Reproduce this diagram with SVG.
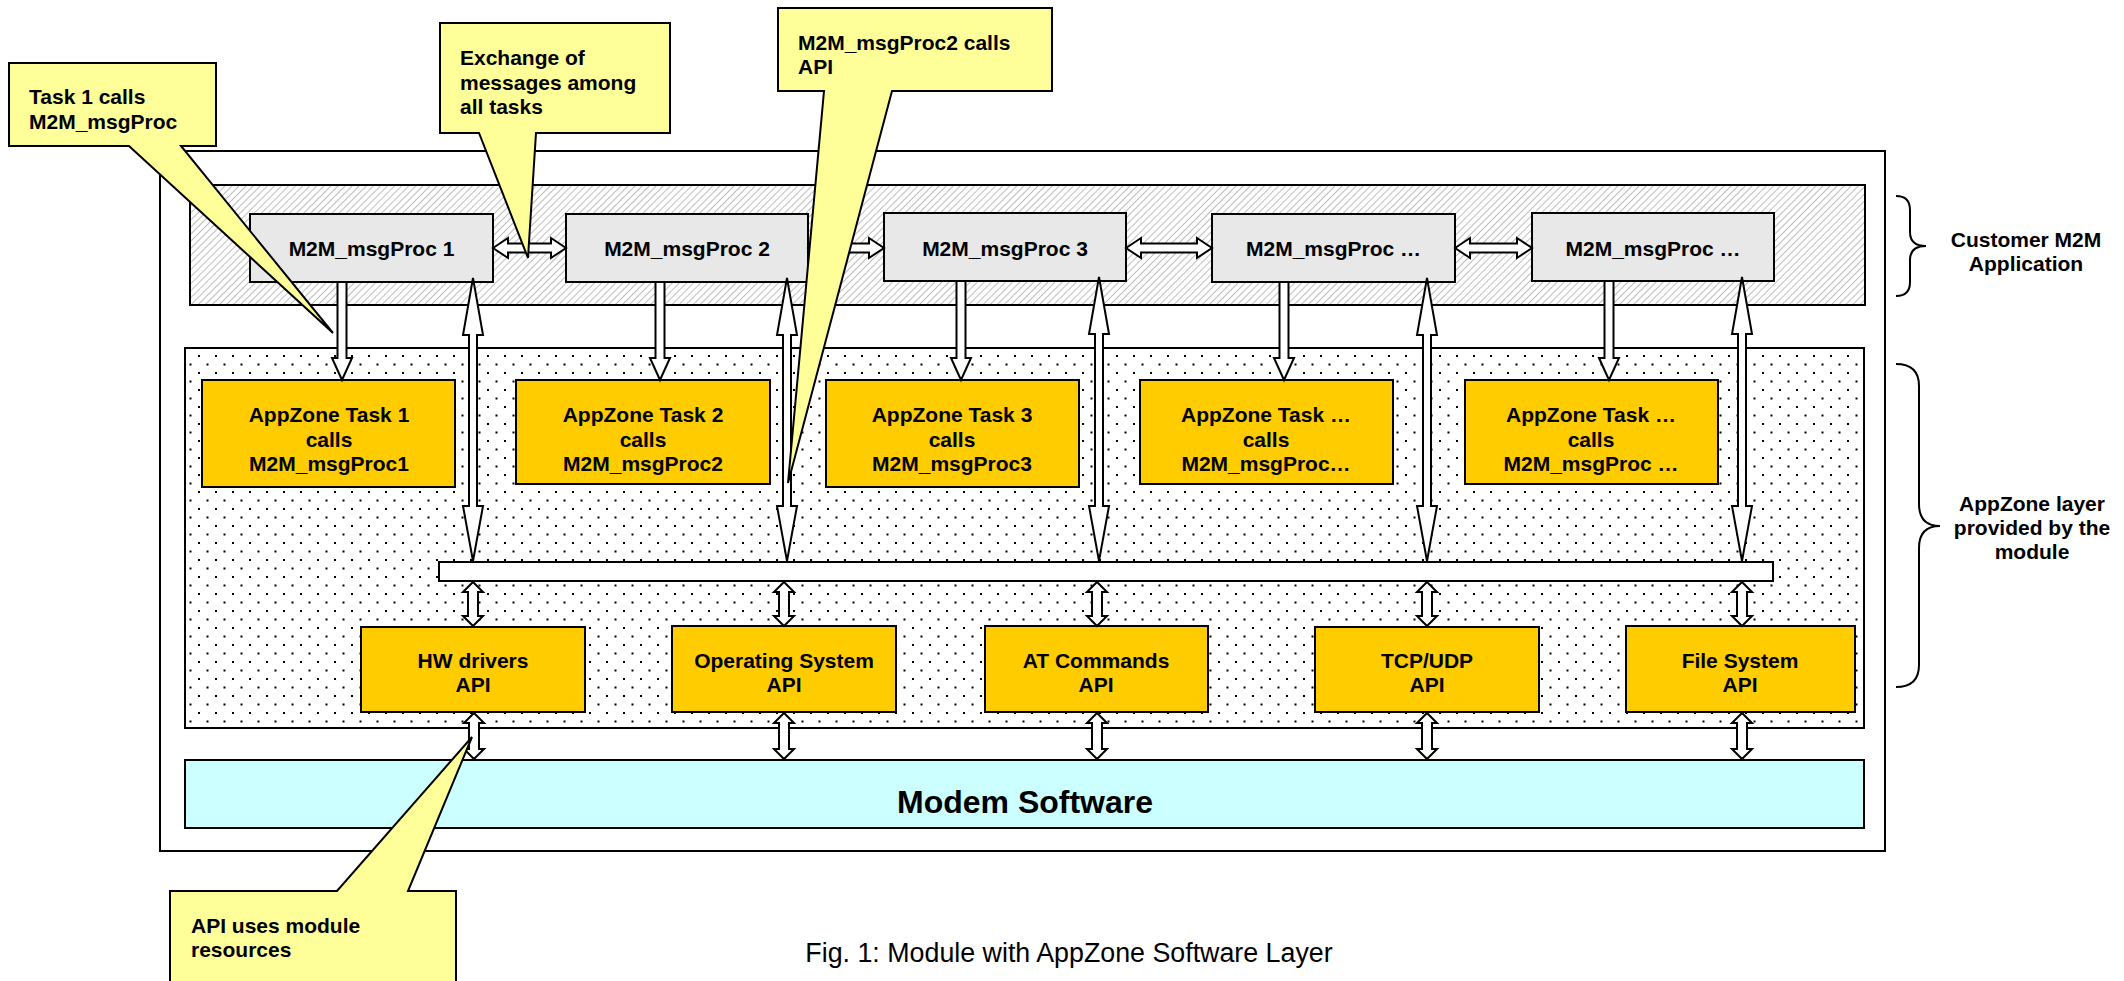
<svg xmlns="http://www.w3.org/2000/svg" width="2124" height="981" viewBox="0 0 2124 981">
<style>
text{font-family:"Liberation Sans",Arial,sans-serif;font-weight:bold;font-size:21px;fill:#000}
.c{text-anchor:middle}
.proc{fill:#E8E8E8;stroke:#000;stroke-width:2}
.task{fill:#FFCC00;stroke:#000;stroke-width:2}
.api{fill:#FFCC00;stroke:#000;stroke-width:2}
.call{fill:#FFFF99;stroke:#000;stroke-width:2;stroke-linejoin:miter}
.arr{fill:#fff;stroke:#000;stroke-width:2;stroke-linejoin:miter}
.brace{fill:none;stroke:#000;stroke-width:2}
</style>
<defs>
<pattern id="hatch" width="5" height="5" patternUnits="userSpaceOnUse" patternTransform="rotate(45)">
<rect width="5" height="5" fill="#fff"/>
<line x1="0" y1="0" x2="0" y2="5" stroke="#999" stroke-width="1.3"/>
</pattern>
<pattern id="dots" x="197" y="354" width="17" height="17" patternUnits="userSpaceOnUse">
<rect width="17" height="17" fill="#fff"/>
<rect x="1" y="1" width="2" height="2" fill="#000"/>
<rect x="9.5" y="9.5" width="2" height="2" fill="#000"/>
</pattern>
</defs>
<rect width="2124" height="981" fill="#fff"/>

<g id="frame">
<rect x="160" y="151" width="1725" height="700" fill="#fff" stroke="#000" stroke-width="2"/>
</g>
<g id="customer-layer">
<rect x="190" y="185" width="1675" height="120" fill="url(#hatch)" stroke="#000" stroke-width="2"/>
</g>
<g id="appzone-layer">
<rect x="185" y="348" width="1679" height="380" fill="url(#dots)" stroke="#000" stroke-width="2"/>
</g>
<g id="modem">
<rect x="185" y="760" width="1679" height="68" fill="#CCFFFF" stroke="#000" stroke-width="2"/>
<text class="c" x="1025" y="813" style="font-size:32px">Modem Software</text>
</g>

<g id="bus">
<rect x="439" y="562" width="1334" height="19" fill="#fff" stroke="#000" stroke-width="2"/>
</g>

<g id="proc1"><rect class="proc" x="250" y="214" width="243" height="68"/><text class="c" x="371.5" y="256">M2M_msgProc 1</text></g>
<g id="proc2"><rect class="proc" x="566" y="214" width="242" height="68"/><text class="c" x="687" y="256">M2M_msgProc 2</text></g>
<g id="proc3"><rect class="proc" x="884" y="213" width="242" height="68"/><text class="c" x="1005" y="256">M2M_msgProc 3</text></g>
<g id="proc4"><rect class="proc" x="1212" y="214" width="243" height="68"/><text class="c" x="1333.5" y="256">M2M_msgProc …</text></g>
<g id="proc5"><rect class="proc" x="1532" y="213" width="242" height="68"/><text class="c" x="1653" y="256">M2M_msgProc …</text></g>

<g id="task1"><rect class="task" x="202" y="380" width="253" height="107"/><text class="c" x="329" y="422">AppZone Task 1</text><text class="c" x="329" y="447">calls</text><text class="c" x="329" y="471">M2M_msgProc1</text></g>
<g id="task2"><rect class="task" x="516" y="380" width="254" height="104"/><text class="c" x="643" y="422">AppZone Task 2</text><text class="c" x="643" y="447">calls</text><text class="c" x="643" y="471">M2M_msgProc2</text></g>
<g id="task3"><rect class="task" x="826" y="380" width="253" height="107"/><text class="c" x="952" y="422">AppZone Task 3</text><text class="c" x="952" y="447">calls</text><text class="c" x="952" y="471">M2M_msgProc3</text></g>
<g id="task4"><rect class="task" x="1140" y="380" width="253" height="104"/><text class="c" x="1266" y="422">AppZone Task …</text><text class="c" x="1266" y="447">calls</text><text class="c" x="1266" y="471">M2M_msgProc…</text></g>
<g id="task5"><rect class="task" x="1465" y="380" width="253" height="104"/><text class="c" x="1591" y="422">AppZone Task …</text><text class="c" x="1591" y="447">calls</text><text class="c" x="1591" y="471">M2M_msgProc …</text></g>

<g id="api-hw"><rect class="api" x="361" y="627" width="224" height="85"/><text class="c" x="473" y="668">HW drivers</text><text class="c" x="473" y="692">API</text></g>
<g id="api-os"><rect class="api" x="672" y="626" width="224" height="86"/><text class="c" x="784" y="668">Operating System</text><text class="c" x="784" y="692">API</text></g>
<g id="api-at"><rect class="api" x="985" y="626" width="223" height="86"/><text class="c" x="1096" y="668">AT Commands</text><text class="c" x="1096" y="692">API</text></g>
<g id="api-tcp"><rect class="api" x="1315" y="627" width="224" height="85"/><text class="c" x="1427" y="668">TCP/UDP</text><text class="c" x="1427" y="692">API</text></g>
<g id="api-fs"><rect class="api" x="1626" y="626" width="229" height="86"/><text class="c" x="1740" y="668">File System</text><text class="c" x="1740" y="692">API</text></g>

<g id="connectors">
<polygon class="arr" points="493,248 508,238 508,243.5 551,243.5 551,238 566,248 551,258 551,252.5 508,252.5 508,258"/>
<polygon class="arr" points="808,248 823,238 823,243.5 869,243.5 869,238 884,248 869,258 869,252.5 823,252.5 823,258"/>
<polygon class="arr" points="1126,248 1141,238 1141,243.5 1197,243.5 1197,238 1212,248 1197,258 1197,252.5 1141,252.5 1141,258"/>
<polygon class="arr" points="1455,248 1470,238 1470,243.5 1517,243.5 1517,238 1532,248 1517,258 1517,252.5 1470,252.5 1470,258"/>
<polygon class="arr" points="337.5,282 346.5,282 346.5,358 352,358 342,380 332,358 337.5,358"/>
<polygon class="arr" points="655.5,282 664.5,282 664.5,358 670,358 660,380 650,358 655.5,358"/>
<polygon class="arr" points="956.5,281 965.5,281 965.5,358 971,358 961,380 951,358 956.5,358"/>
<polygon class="arr" points="1279.5,282 1288.5,282 1288.5,358 1294,358 1284,380 1274,358 1279.5,358"/>
<polygon class="arr" points="1604.5,281 1613.5,281 1613.5,358 1619,358 1609,380 1599,358 1604.5,358"/>
<polygon class="arr" points="473,278 483,335 477,335 477,506 483,506 473,561 463,506 469,506 469,335 463,335"/>
<polygon class="arr" points="787,278 797,335 791,335 791,506 797,506 787,561 777,506 783,506 783,335 777,335"/>
<polygon class="arr" points="1099,277 1109,334 1103,334 1103,506 1109,506 1099,561 1089,506 1095,506 1095,334 1089,334"/>
<polygon class="arr" points="1427,278 1437,335 1431,335 1431,506 1437,506 1427,561 1417,506 1423,506 1423,335 1417,335"/>
<polygon class="arr" points="1742,277 1752,334 1746,334 1746,506 1752,506 1742,561 1732,506 1738,506 1738,334 1732,334"/>
<polygon class="arr" points="473,582 483,592 478,592 478,616 483,616 473,626 463,616 468,616 468,592 463,592"/>
<polygon class="arr" points="784,582 794,592 789,592 789,616 794,616 784,626 774,616 779,616 779,592 774,592"/>
<polygon class="arr" points="1097,582 1107,592 1102,592 1102,616 1107,616 1097,626 1087,616 1092,616 1092,592 1087,592"/>
<polygon class="arr" points="1427,582 1437,592 1432,592 1432,616 1437,616 1427,626 1417,616 1422,616 1422,592 1417,592"/>
<polygon class="arr" points="1742,582 1752,592 1747,592 1747,616 1752,616 1742,626 1732,616 1737,616 1737,592 1732,592"/>
<polygon class="arr" points="474,713 484,723 479,723 479,749 484,749 474,759 464,749 469,749 469,723 464,723"/>
<polygon class="arr" points="784,713 794,723 789,723 789,749 794,749 784,759 774,749 779,749 779,723 774,723"/>
<polygon class="arr" points="1097,713 1107,723 1102,723 1102,749 1107,749 1097,759 1087,749 1092,749 1092,723 1087,723"/>
<polygon class="arr" points="1427,713 1437,723 1432,723 1432,749 1437,749 1427,759 1417,749 1422,749 1422,723 1417,723"/>
<polygon class="arr" points="1742,713 1752,723 1747,723 1747,749 1752,749 1742,759 1732,749 1737,749 1737,723 1732,723"/>
</g>

<g id="brace-customer">
<path class="brace" d="M1896,196 Q1910,196 1910,210 V232 Q1910,246 1926,246 Q1910,246 1910,260 V282 Q1910,296 1896,296"/>
<text class="c" x="2026" y="247">Customer M2M</text>
<text class="c" x="2026" y="271">Application</text>
</g>
<g id="brace-appzone">
<path class="brace" d="M1896,364 Q1919,364 1919,386 V504 Q1919,526 1940,526 Q1919,526 1919,548 V665 Q1919,687 1896,687"/>
<text class="c" x="2032" y="511">AppZone layer</text>
<text class="c" x="2032" y="535">provided by the</text>
<text class="c" x="2032" y="559">module</text>
</g>

<g id="callout-task1">
<path class="call" d="M9,63 H216 V146 H181 L333,333 L129,146 H9 Z"/>
<text x="29" y="104">Task 1 calls</text>
<text x="29" y="129">M2M_msgProc</text>
</g>
<g id="callout-exchange">
<path class="call" d="M440,23 H670 V133 H536 L528,258 L479,133 H440 Z"/>
<text x="460" y="65">Exchange of</text>
<text x="460" y="90">messages among</text>
<text x="460" y="114">all tasks</text>
</g>
<g id="callout-proc2">
<path class="call" d="M778,8 H1052 V91 H892 L788,483 L824,91 H778 Z"/>
<text x="798" y="50">M2M_msgProc2 calls</text>
<text x="798" y="74">API</text>
</g>
<g id="callout-api">
<path class="call" d="M170,891 H337 L472,737 L408,891 H456 V990 H170 Z"/>
<text x="191" y="933">API uses module</text>
<text x="191" y="957">resources</text>
</g>

<text x="1069" y="962" class="c" style="font-weight:normal;font-size:26.8px">Fig. 1: Module with AppZone Software Layer</text>
</svg>
